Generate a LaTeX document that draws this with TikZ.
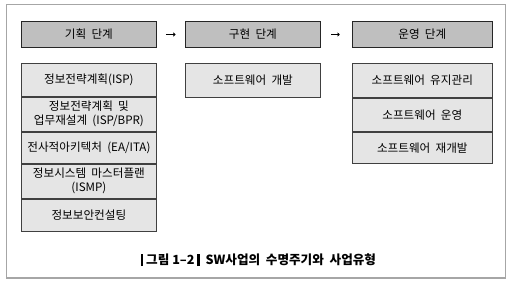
\documentclass[tikz,border=0pt]{standalone}
\usepackage{fontspec}
\setmainfont{Noto Sans CJK KR}
\usepackage{tikz}
\usetikzlibrary{arrows.meta,positioning}
\newcommand{\capbar}{\rule[-0.12em]{2.4pt}{0.95em}}

\begin{document}
\begin{tikzpicture}[
    x=1pt, y=1pt,
    font=\fontsize{11.6}{13}\selectfont,
    node distance=0pt,
    stage/.style={draw=black!85, fill=black!25, line width=1.3pt, minimum width=135.5pt, minimum height=25.6pt, inner sep=0pt},
    task/.style={draw=black!75, fill=black!10, line width=0.9pt, minimum width=135.5pt, minimum height=33pt, align=center, inner sep=0pt}
]
\useasboundingbox (0,0) rectangle (513,-284);
\draw[black!35, line width=1.5pt] (6.5,-4.3) rectangle (505.5,-278);

\node[stage] (plan) at (88.9,-34.5) {기획\ \ 단계};
\node[stage] (impl) at (252.9,-34.5) {구현\ \ 단계};
\node[stage, minimum width=140pt] (oper) at (422.3,-34.5) {운영\ \ 단계};

% planning stage
\node[task, minimum height=32.4pt, anchor=north] (isp) at (88.9,-63.3) {정보전략계획(ISP)};
\node[task, minimum height=34.3pt, below=of isp] (bpr) {정보전략계획\ \ 및\\[1pt]업무재설계\ \ (ISP/BPR)};
\node[task, minimum height=31pt, below=of bpr] (ea) {전사적아키텍처\ \ (EA/ITA)};
\node[task, minimum height=34pt, below=of ea] (ismp) {정보시스템\ \ 마스터플랜\\[1pt](ISMP)};
\node[task, minimum height=32.7pt, below=of ismp] (sec) {정보보안컨설팅};

% implementation stage
\node[task, minimum height=33.4pt, anchor=north] (dev) at (252.9,-63.3) {소프트웨어\ \ 개발};

% operation stage
\node[task, minimum width=140pt, minimum height=33.4pt, anchor=north] (maint) at (422.3,-63.3) {소프트웨어\ \ 유지관리};
\node[task, minimum width=140pt, minimum height=33.3pt, below=of maint] (run) {소프트웨어\ \ 운영};
\node[task, minimum width=140pt, minimum height=31pt, below=of run] (redev) {소프트웨어\ \ 재개발};

\foreach \a/\b/\s/\e in {plan/impl/8.5/9, impl/oper/10/12}
  \draw[-{To[length=2.5pt,width=4pt]}, line width=0.8pt, shorten <=\s pt, shorten >=\e pt] (\a.east) -- (\b.west);

\node[font=\fontsize{12.6}{14}\selectfont\bfseries] (cap) at (258.5,-260)
  {\capbar\ 그림\ 1--2\ \capbar\ \ SW사업의\ \ 수명주기와\ \ 사업유형};
\end{tikzpicture}
\end{document}
